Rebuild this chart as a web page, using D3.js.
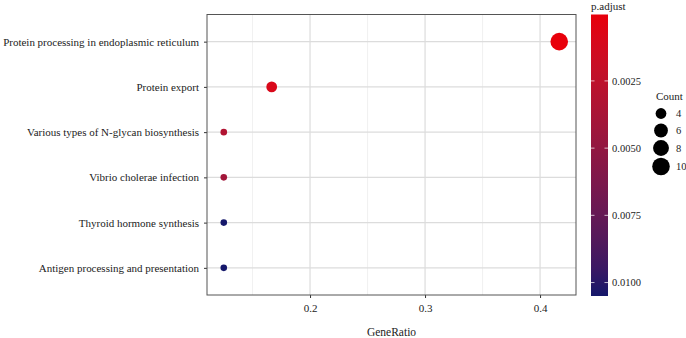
<!DOCTYPE html>
<html>
<head>
<meta charset="utf-8">
<script src="https://cdn.jsdelivr.net/npm/d3@7"></script>
<style>
  body { margin: 0; background: #fff; }
  text { font-family: "Liberation Serif", "DejaVu Serif", serif; fill: #222; }
</style>
</head>
<body>
<div class="dot-chart"></div>
<script>
// Data.
const pathways = [
  "Protein processing in endoplasmic reticulum",
  "Protein export",
  "Various types of N-glycan biosynthesis",
  "Vibrio cholerae infection",
  "Thyroid hormone synthesis",
  "Antigen processing and presentation",
];
const geneRatio = [10 / 24, 4 / 24, 3 / 24, 3 / 24, 3 / 24, 3 / 24];
const counts = [10, 4, 3, 3, 3, 3];
const pAdjust = [0.00003, 0.0009, 0.0032, 0.0041, 0.0105, 0.0105];

const xTicks = [0.2, 0.3, 0.4];
const xMinor = [0.15, 0.25, 0.35];
const pTicks = [0.0025, 0.005, 0.0075, 0.01];
const countTicks = [4, 6, 8, 10];

// Margin convention.
const W = 686, H = 338;
const margin = { top: 14.5, right: 110, bottom: 43, left: 207 };
const width = 576 - margin.left;
const height = H - margin.top - margin.bottom;

const svg = d3
  .select(".dot-chart")
  .append("svg")
  .attr("width", W)
  .attr("height", H);

const g = svg
  .append("g")
  .attr("transform", `translate(${margin.left}, ${margin.top})`);

// Scales.
const xExt = d3.extent(geneRatio);
const xPad = (xExt[1] - xExt[0]) * 0.05;
const xScale = d3
  .scaleLinear()
  .domain([xExt[0] - xPad, xExt[1] + xPad])
  .range([0, width]);

// discrete axis with 0.6 expansion
const step = height / (pathways.length - 1 + 1.2);
const yScale = d3
  .scalePoint()
  .domain(pathways)
  .range([0.6 * step, height - 0.6 * step]);

const pExt = d3.extent(pAdjust);
const colorScale = d3
  .scaleLinear()
  .domain(pExt)
  .range(["#e8000b", "#15186b"])
  .interpolate(d3.interpolateLab);

const cMin = d3.min(counts), cMax = d3.max(counts);
const rLin = d3.scaleLinear().domain([0, 1]).range([3.3, 8.8]);
const rScale = (c) => rLin(Math.sqrt((c - cMin) / (cMax - cMin)));

// Grid lines.
g.append("g")
  .selectAll("line")
  .data(xMinor)
  .join("line")
  .attr("x1", (d) => xScale(d))
  .attr("x2", (d) => xScale(d))
  .attr("y1", 0)
  .attr("y2", height)
  .attr("stroke", "#ececec")
  .attr("stroke-width", 0.8);

g.append("g")
  .selectAll("line")
  .data(xTicks)
  .join("line")
  .attr("x1", (d) => xScale(d))
  .attr("x2", (d) => xScale(d))
  .attr("y1", 0)
  .attr("y2", height)
  .attr("stroke", "#dcdcdc")
  .attr("stroke-width", 1.2);

g.append("g")
  .selectAll("line")
  .data(pathways)
  .join("line")
  .attr("x1", 0)
  .attr("x2", width)
  .attr("y1", (d) => yScale(d))
  .attr("y2", (d) => yScale(d))
  .attr("stroke", "#dcdcdc")
  .attr("stroke-width", 1.2);

// Axes.
const xAxis = d3
  .axisBottom(xScale)
  .tickValues(xTicks)
  .tickFormat(d3.format(".1f"))
  .tickSize(3)
  .tickPadding(6);
const xAxisDraw = g
  .append("g")
  .attr("transform", `translate(0, ${height})`)
  .call(xAxis);
xAxisDraw.select(".domain").remove();
xAxisDraw.selectAll("line").attr("stroke", "#333");
xAxisDraw
  .selectAll("text")
  .style("font-family", "Liberation Serif, serif")
  .style("font-size", "11px")
  .attr("fill", "#333");

const yAxis = d3.axisLeft(yScale).tickSize(3).tickPadding(5);
const yAxisDraw = g.append("g").call(yAxis);
yAxisDraw.select(".domain").remove();
yAxisDraw.selectAll("line").attr("stroke", "#333");
const yText = yAxisDraw
  .selectAll("text")
  .style("font-family", "Liberation Serif, serif")
  .style("font-size", "11px")
  .attr("fill", "#222");

// shrink labels so the longest one fits inside the left margin
const longest = d3.max(yText.nodes(), (n) => n.getComputedTextLength());
const fitSize = Math.min(11.4, (11 * 196) / longest);
yText.style("font-size", `${fitSize}px`);

// Panel border.
g.append("rect")
  .attr("width", width)
  .attr("height", height)
  .attr("fill", "none")
  .attr("stroke", "#555")
  .attr("stroke-width", 1);

// Points.
g.append("g")
  .selectAll("circle")
  .data(pathways)
  .join("circle")
  .attr("cx", (d, i) => xScale(geneRatio[i]))
  .attr("cy", (d) => yScale(d))
  .attr("r", (d, i) => rScale(counts[i]))
  .attr("fill", (d, i) => colorScale(pAdjust[i]));

// X title.
svg
  .append("text")
  .attr("x", margin.left + width / 2)
  .attr("y", 336)
  .attr("text-anchor", "middle")
  .style("font-size", "11.5px")
  .text("GeneRatio");

// Colour bar.
const barX = 591, barW = 17, barTop = 14.5, barH = 281.5;
const pScale = d3.scaleLinear().domain(pExt).range([barTop, barTop + barH]);

const defs = svg.append("defs");
const grad = defs
  .append("linearGradient")
  .attr("id", "pgrad")
  .attr("x1", 0)
  .attr("x2", 0)
  .attr("y1", 0)
  .attr("y2", 1);
grad
  .selectAll("stop")
  .data(d3.range(0, 1.0001, 0.1))
  .join("stop")
  .attr("offset", (d) => d)
  .attr("stop-color", (d) => colorScale(pExt[0] + d * (pExt[1] - pExt[0])));

svg
  .append("rect")
  .attr("x", barX)
  .attr("y", barTop)
  .attr("width", barW)
  .attr("height", barH)
  .attr("fill", "url(#pgrad)");

const pTickG = svg
  .append("g")
  .selectAll("g")
  .data(pTicks)
  .join("g")
  .attr("transform", (d) => `translate(0, ${pScale(d)})`);
pTickG
  .append("line")
  .attr("x1", barX)
  .attr("x2", barX + 3.5)
  .attr("stroke", "#fff")
  .attr("stroke-opacity", 0.7);
pTickG
  .append("line")
  .attr("x1", barX + barW - 3.5)
  .attr("x2", barX + barW)
  .attr("stroke", "#fff")
  .attr("stroke-opacity", 0.7);
pTickG
  .append("text")
  .attr("x", barX + barW + 4)
  .attr("dy", "0.35em")
  .style("font-size", "10.5px")
  .text((d) => d3.format(".4f")(d));

svg
  .append("text")
  .attr("x", barX)
  .attr("y", 10)
  .style("font-size", "11px")
  .text("p.adjust");

// Size legend.
svg
  .append("text")
  .attr("x", 656)
  .attr("y", 100)
  .style("font-size", "11px")
  .text("Count");

const countY = [113.5, 130.5, 148, 166.5];
const sizeG = svg
  .append("g")
  .selectAll("g")
  .data(countTicks)
  .join("g")
  .attr("transform", (d, i) => `translate(0, ${countY[i]})`);
sizeG
  .append("circle")
  .attr("cx", 661)
  .attr("r", (d) => rScale(d))
  .attr("fill", "#000");
sizeG
  .append("text")
  .attr("x", 676)
  .attr("dy", "0.35em")
  .style("font-size", "10.5px")
  .text((d) => d);
</script>
</body>
</html>
